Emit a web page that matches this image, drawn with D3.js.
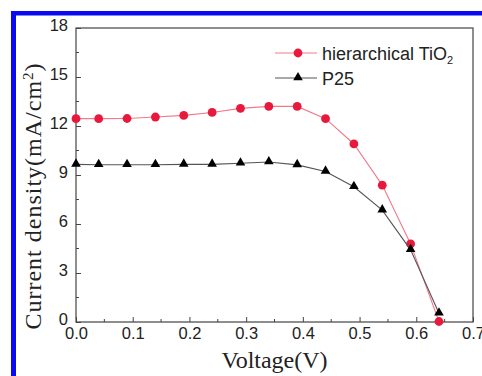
<!DOCTYPE html>
<html>
<head>
<meta charset="utf-8">
<script src="https://cdn.jsdelivr.net/npm/d3@7"></script>
<style>
  body { margin: 0; background: #fff; }
  svg { display: block; }
</style>
</head>
<body>
<div id="chart"></div>
<script>
// size of the whole picture
const width = 482;
const height = 376;
const margin = {top: 28, right: 9, bottom: 54, left: 76};

// data
const voltage = [0, 0.04, 0.09, 0.14, 0.19, 0.24, 0.29, 0.34, 0.39, 0.44, 0.49, 0.54, 0.59, 0.64];
const hierarchicalTiO2 = [12.45, 12.45, 12.46, 12.55, 12.65, 12.83, 13.08, 13.2, 13.2, 12.45, 10.9, 8.38, 4.78, 0.03];
const p25 = [9.65, 9.63, 9.63, 9.63, 9.65, 9.65, 9.72, 9.8, 9.62, 9.22, 8.28, 6.85, 4.42, 0.53];
const xTicks = [0, 0.1, 0.2, 0.3, 0.4, 0.5, 0.6, 0.7];
const yTicks = [0, 3, 6, 9, 12, 15, 18];

// colours
const blueFrame = "#0a0af0";
const redMarker = "#e8193c";
const redLine = "#f07a8c";
const blackMarker = "#000";
const blackLine = "#555";
const axisColour = "#444";
const textColour = "#222";

const sans = "'Liberation Sans', Arial, sans-serif";
const serif = "'Liberation Serif', 'Times New Roman', serif";

const svg = d3.select("#chart").append("svg")
  .attr("width", width)
  .attr("height", height);

// blue frame (top and left bars)
svg.append("rect").attr("x", 11).attr("y", 11).attr("width", width - 11).attr("height", 4.5).attr("fill", blueFrame);
svg.append("rect").attr("x", 11).attr("y", 11).attr("width", 5).attr("height", height - 11).attr("fill", blueFrame);

const x = d3.scaleLinear().domain([0, 0.7]).range([margin.left, width - margin.right]);
const y = d3.scaleLinear().domain([0, 18]).range([height - margin.bottom, margin.top]);

// plot box
svg.append("rect")
  .attr("x", x(0)).attr("y", y(18))
  .attr("width", x(0.7) - x(0)).attr("height", y(0) - y(18))
  .attr("fill", "none").attr("stroke", axisColour).attr("stroke-width", 1.2);

// x axis, ticks pointing inward
const xAxis = g => g
  .attr("transform", `translate(0, ${y(0)})`)
  .call(d3.axisBottom(x).tickValues(xTicks).tickFormat(d3.format(".1f")).tickSizeInner(-5).tickSizeOuter(0).tickPadding(7))
  .call(g => g.select(".domain").remove())
  .call(g => g.selectAll(".tick line").attr("stroke", axisColour))
  .call(g => g.selectAll(".tick text").attr("fill", textColour).attr("font-size", "16.5px").attr("font-family", sans).attr("dy", "0.62em"))
  .call(g => g.selectAll(".minor").data(d3.range(0.05, 0.7, 0.1)).join("line")
    .attr("class", "minor")
    .attr("x1", d => x(d)).attr("x2", d => x(d))
    .attr("y1", 0).attr("y2", -3)
    .attr("stroke", axisColour));

const yAxis = g => g
  .attr("transform", `translate(${x(0)}, 0)`)
  .call(d3.axisLeft(y).tickValues(yTicks).tickSizeInner(-5).tickSizeOuter(0).tickPadding(8))
  .call(g => g.select(".domain").remove())
  .call(g => g.selectAll(".tick line").attr("stroke", axisColour))
  .call(g => g.selectAll(".tick text").attr("fill", textColour).attr("font-size", "16.5px").attr("font-family", sans).attr("dy", "0.18em"))
  .call(g => g.selectAll(".minor").data(d3.range(1.5, 18, 3)).join("line")
    .attr("class", "minor")
    .attr("x1", 0).attr("x2", 3)
    .attr("y1", d => y(d)).attr("y2", d => y(d))
    .attr("stroke", axisColour));

svg.append("g").call(xAxis);
svg.append("g").call(yAxis);

// axis titles
svg.append("text")
  .attr("x", (x(0) + x(0.7)) / 2)
  .attr("y", 368)
  .attr("text-anchor", "middle")
  .attr("font-family", serif)
  .attr("font-size", "24px")
  .attr("fill", textColour)
  .text("Voltage(V)");

const yTitle = svg.append("text")
  .attr("transform", `translate(41, 196)rotate(-90)`)
  .attr("text-anchor", "middle")
  .attr("font-family", serif)
  .attr("font-size", "24px")
  .attr("letter-spacing", "1px")
  .attr("fill", textColour);
yTitle.append("tspan").text("Current density(mA/cm");
yTitle.append("tspan").attr("dy", "-0.55em").attr("font-size", "15px").text("2");
yTitle.append("tspan").attr("dy", "0.35em").text(")");

// series
const series = [
  {name: "hierarchical", values: hierarchicalTiO2, line: redLine, marker: redMarker, shape: "circle"},
  {name: "P25", values: p25, line: blackLine, marker: blackMarker, shape: "triangle"}
];

const line = d3.line().x(d => x(d[0])).y(d => y(d[1]));
const triangle = d3.symbol(d3.symbolTriangle, 40);

series.forEach(s => {
  const pts = voltage.map((v, i) => [v, s.values[i]]);
  svg.append("path")
    .datum(pts)
    .attr("fill", "none")
    .attr("stroke", s.line)
    .attr("stroke-width", 1.1)
    .attr("d", line);
  if (s.shape === "circle") {
    svg.selectAll(".pt-c").data(pts).join("circle")
      .attr("class", "pt-c")
      .attr("cx", d => x(d[0])).attr("cy", d => y(d[1]))
      .attr("r", 4.4).attr("fill", s.marker);
  } else {
    svg.selectAll(".pt-t").data(pts).join("path")
      .attr("class", "pt-t")
      .attr("transform", d => `translate(${x(d[0])}, ${y(d[1]) - 0.5})`)
      .attr("d", triangle).attr("fill", s.marker);
  }
});

// legend
const legend = svg.append("g").attr("transform", "translate(275, 53)");
legend.append("line").attr("x1", 0).attr("x2", 42).attr("y1", 0).attr("y2", 0).attr("stroke", redLine).attr("stroke-width", 1.1);
legend.append("circle").attr("cx", 23).attr("cy", 0).attr("r", 4.4).attr("fill", redMarker);
const t1 = legend.append("text").attr("x", 47).attr("y", 6.5)
  .attr("font-family", sans).attr("font-size", "18px").attr("fill", textColour);
t1.append("tspan").text("hierarchical TiO");
t1.append("tspan").attr("dy", "0.4em").attr("font-size", "11px").text("2");

legend.append("line").attr("x1", 0).attr("x2", 42).attr("y1", 25).attr("y2", 25).attr("stroke", blackLine).attr("stroke-width", 1.1);
legend.append("path").attr("transform", "translate(23, 24.5)").attr("d", triangle).attr("fill", blackMarker);
legend.append("text").attr("x", 47).attr("y", 31.5)
  .attr("font-family", sans).attr("font-size", "18px").attr("fill", textColour)
  .text("P25");
</script>
</body>
</html>
